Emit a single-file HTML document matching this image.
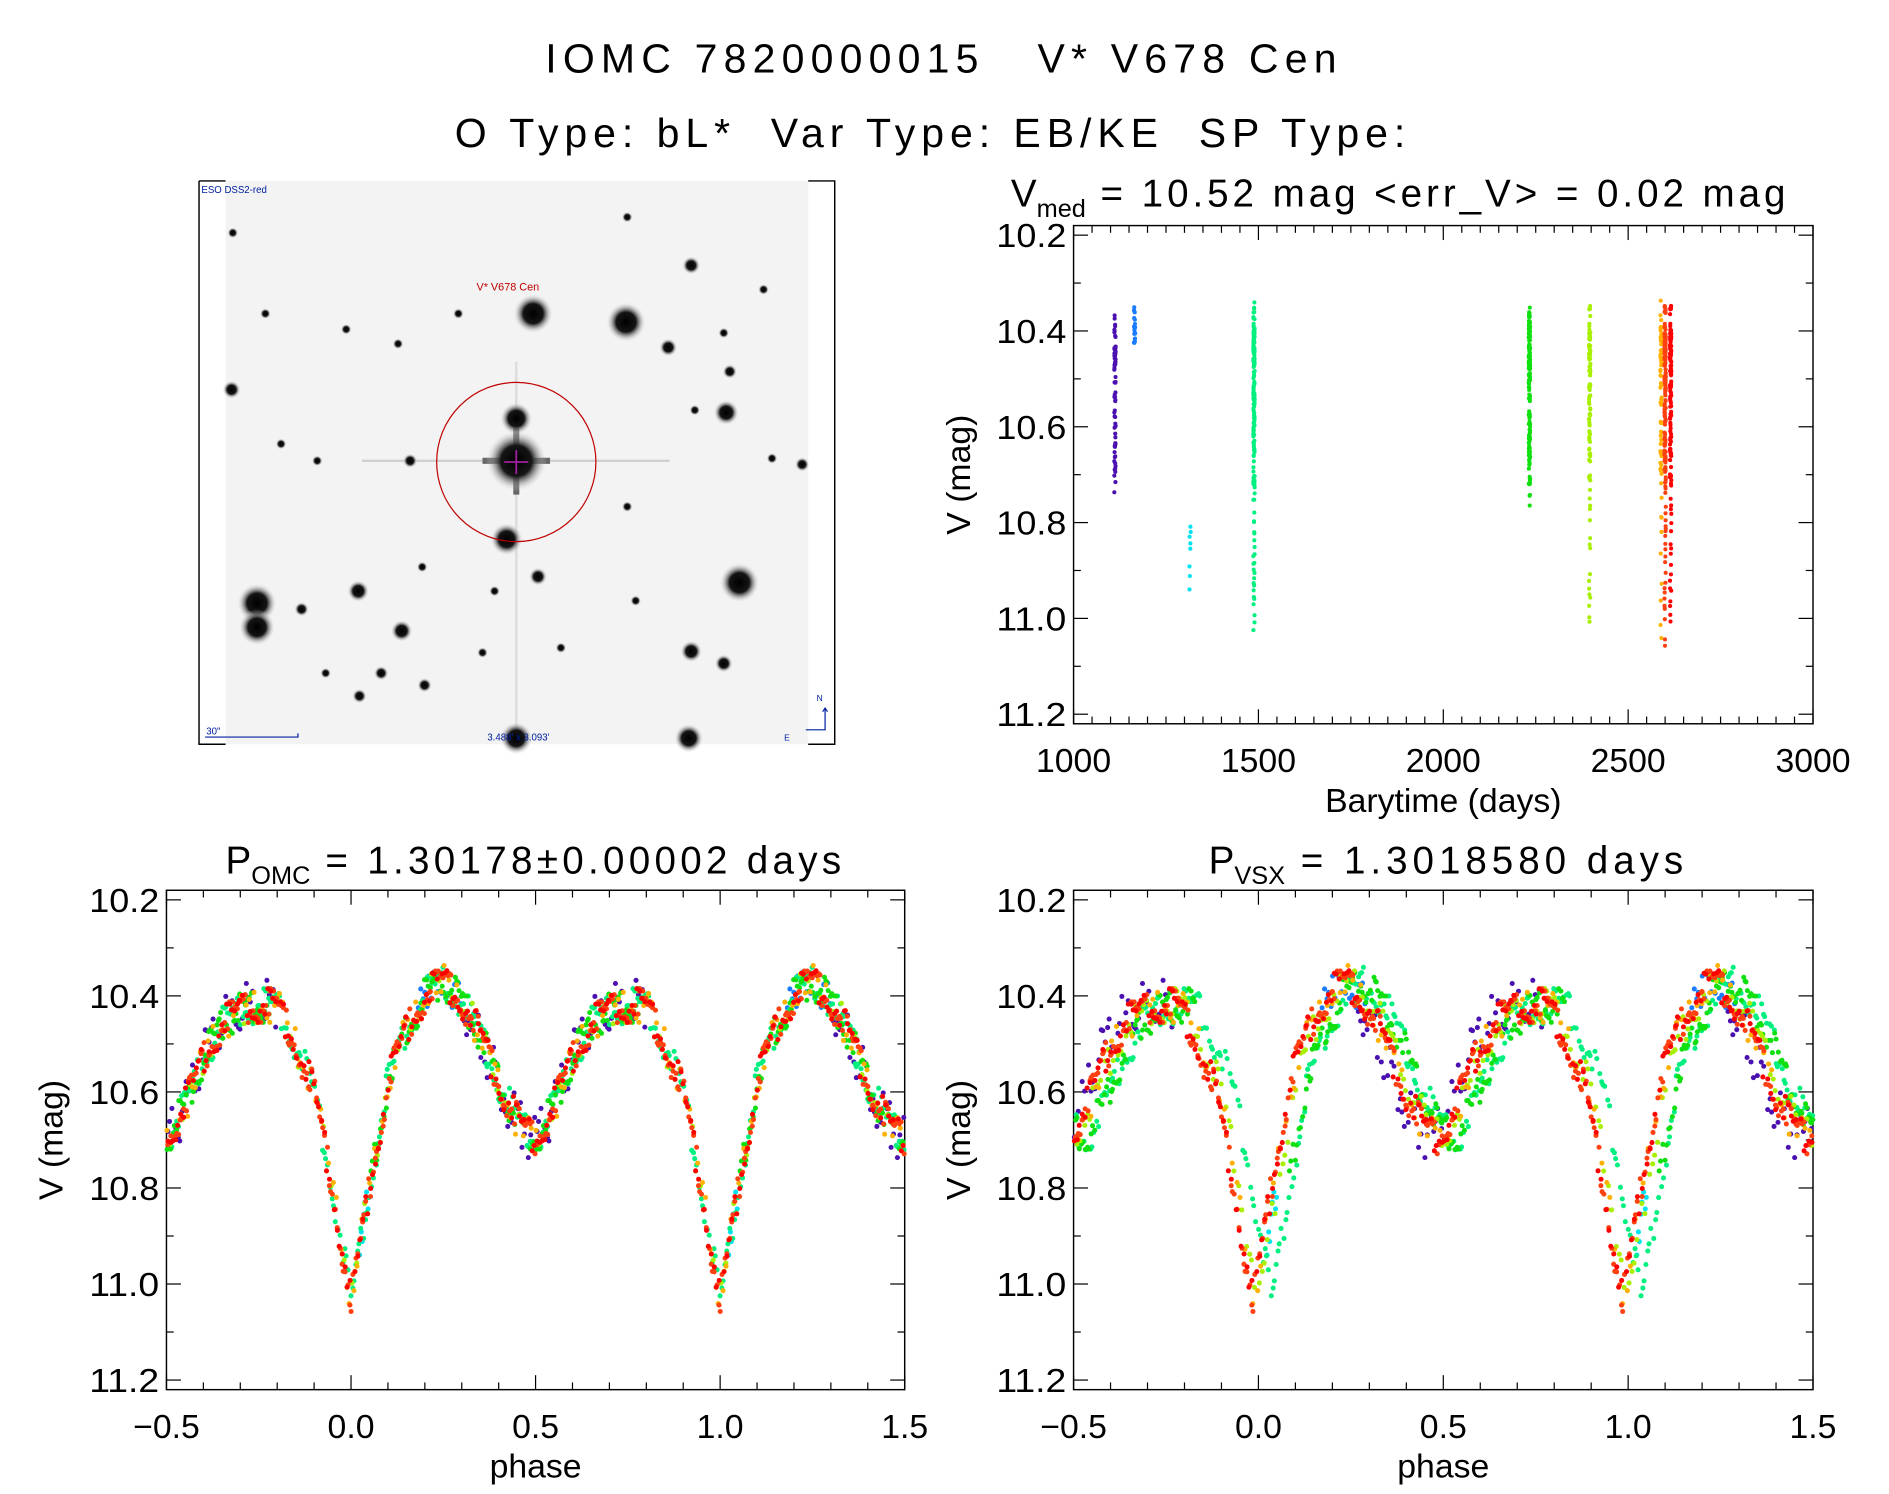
<!DOCTYPE html>
<html><head><meta charset="utf-8">
<style>
html,body{margin:0;padding:0;background:#fff;}
svg{display:block;font-family:"Liberation Sans",sans-serif;}
</style></head>
<body>
<svg id="fig" width="1889" height="1494" viewBox="0 0 1566 1238.5" preserveAspectRatio="none" xmlns="http://www.w3.org/2000/svg">
<rect x="0" y="0" width="1566" height="1239" fill="#fff"/>
<text x="452" y="60" font-size="34" textLength="656" lengthAdjust="spacing" fill="#000" xml:space="preserve">IOMC 7820000015   V* V678 Cen</text>
<text x="377" y="122" font-size="34" textLength="788" lengthAdjust="spacing" fill="#000" xml:space="preserve">O Type: bL*  Var Type: EB/KE  SP Type:</text>

<g id="sky"></g>
<g id="p1"></g>
<g id="p2"></g>
<g id="p3"></g>
</svg>
<script>
// ---- data ----
const templatePhase = [0.0,0.05,0.1,0.15,0.2,0.25,0.3,0.35,0.4,0.45,0.5,0.55,0.6,0.65,0.7,0.75,0.8,0.85,0.9,0.95,1.0];
const templateMag   = [11.04,10.80,10.58,10.47,10.40,10.37,10.41,10.48,10.58,10.66,10.70,10.63,10.53,10.46,10.43,10.42,10.42,10.50,10.60,10.80,11.04];
const seasonTime   = [1112,1165,1315,1488,2233,2396,2589,2600,2615];
const seasonColor  = ['#4a10b0','#1a7cff','#00e4f0','#00f080','#10e010','#a8f000','#ffb000','#ff4010','#ff0000'];
const seasonPhMin  = [0.30,0.18,0.02,0.0,0.05,0.0,0.0,0.0,0.0];
const seasonPhMax  = [0.80,0.30,0.05,1.0,0.80,1.0,1.0,1.0,1.0];
const seasonCount  = [70,20,8,180,160,110,70,180,130];
const seasonShiftVsx = [-0.03,-0.01,0.0,0.035,0.03,0.0,-0.01,-0.015,-0.015];
const jitter = [0.015,-0.03,0.022,-0.008,0.035,-0.022,0.0,0.03,-0.035,0.008,-0.015,0.026,-0.018,0.012,-0.03,0.018];
const magTicks = ['10.2','10.4','10.6','10.8','11.0','11.2'];
const timeTicks = ['1000','1500','2000','2500','3000'];
const phaseTicks = ['\u22120.5','0.0','0.5','1.0','1.5'];

const NS='http://www.w3.org/2000/svg';
function mk(parent,tag,attrs,text){const e=document.createElementNS(NS,tag);for(const k in attrs)e.setAttribute(k,attrs[k]);if(text!==undefined)e.textContent=text;parent.appendChild(e);return e;}
function interp(p){p=((p%1)+1)%1;for(let i=0;i<templatePhase.length-1;i++){if(p<=templatePhase[i+1]){const t=(p-templatePhase[i])/(templatePhase[i+1]-templatePhase[i]);return templateMag[i]+t*(templateMag[i+1]-templateMag[i]);}}return templateMag[0];}

function axes(g,x0,x1,y0,y1,xmin,xmax,ymin,ymax,xt,xtv,nxMinor,title,xlabel){
  const sx=v=>x0+(v-xmin)/(xmax-xmin)*(x1-x0);
  const sy=v=>y0+(v-ymin)/(ymax-ymin)*(y1-y0);
  const fr=mk(g,'rect',{x:x0,y:y0,width:x1-x0,height:y1-y0,fill:'none',stroke:'#000','stroke-width':1.2});
  
  
  for(let i=0;i<magTicks.length;i++){const v=parseFloat(magTicks[i]);const y=sy(v);
    mk(g,'line',{x1:x0,x2:x0+12,y1:y,y2:y,stroke:'#000'});mk(g,'line',{x1:x1,x2:x1-12,y1:y,y2:y,stroke:'#000'});
    const t=mk(g,'text',{x:x0-6,y:y+10,'font-size':28,'text-anchor':'end',textLength:58,lengthAdjust:'spacingAndGlyphs'},magTicks[i]);
    
    
    if(i<magTicks.length-1){const ym=sy(v+0.1);mk(g,'line',{x1:x0,x2:x0+6,y1:ym,y2:ym,stroke:'#000'});mk(g,'line',{x1:x1,x2:x1-6,y1:ym,y2:ym,stroke:'#000'});}
  }
  for(let i=0;i<xt.length;i++){const x=sx(xtv[i]);
    mk(g,'line',{x1:x,x2:x,y1:y1,y2:y1-12,stroke:'#000'});mk(g,'line',{x1:x,x2:x,y1:y0,y2:y0+12,stroke:'#000'});
    const t=mk(g,'text',{x:x,y:y1+40,'font-size':28,'text-anchor':'middle'},xt[i]);
    
    
    if(i<xt.length-1){for(let k=1;k<nxMinor;k++){const xm=sx(xtv[i]+(xtv[i+1]-xtv[i])*k/nxMinor);
      mk(g,'line',{x1:xm,x2:xm,y1:y1,y2:y1-6,stroke:'#000'});mk(g,'line',{x1:xm,x2:xm,y1:y0,y2:y0+6,stroke:'#000'});}}
  }
  const yl=mk(g,'text',{x:0,y:0,'font-size':28,'text-anchor':'middle',transform:`translate(${x0-86},${(y0+y1)/2}) rotate(-90)`},'V (mag)');
  
  
  const xl=mk(g,'text',{x:(x0+x1)/2,y:y1+73,'font-size':28,'text-anchor':'middle'},xlabel);
  
  
  g.appendChild(title);
  return {sx,sy};
}
function titleEl(x,y,w,main,sub,rest){const t=document.createElementNS(NS,'text');
  t.setAttribute('x',x);t.setAttribute('y',y);t.setAttribute('font-size',32);t.setAttribute('xml:space','preserve');
  
  
  const a=document.createElementNS(NS,'tspan');a.textContent=main;t.appendChild(a);
  const b=document.createElementNS(NS,'tspan');b.setAttribute('font-size',21);b.setAttribute('dy',9);b.textContent=sub;t.appendChild(b);
  const c=document.createElementNS(NS,'tspan');c.setAttribute('dy',-9);c.setAttribute('textLength',w);c.setAttribute('lengthAdjust','spacing');c.textContent=rest;t.appendChild(c);
  return t;}

const g1=document.getElementById('p1');
const a1=axes(g1,890,1503,187,600,1000,3000,10.18,11.22,timeTicks,timeTicks.map(Number),10,
  titleEl(838,171,580,'V','med',' =  10.52  mag  <err_V>  =  0.02  mag'),'Barytime (days)');
const g2=document.getElementById('p2');
const a2=axes(g2,138,750,738,1152,-0.5,1.5,10.18,11.22,phaseTicks,[-0.5,0,0.5,1,1.5],5,
  titleEl(187,724,440,'P','OMC',' =  1.30178\u00b10.00002  days'),'phase');
const g3=document.getElementById('p3');
const a3=axes(g3,890,1503,738,1152,-0.5,1.5,10.18,11.22,phaseTicks,[-0.5,0,0.5,1,1.5],5,
  titleEl(1002,724,330,'P','VSX',' =  1.3018580  days'),'phase');

const pts1=mk(g1,'g',{});
const pts2=mk(g2,'g',{});
const pts3=mk(g3,'g',{});
let j=0;
for(let s=0;s<seasonTime.length;s++){
  const n=seasonCount[s];
  for(let k=0;k<n;k++){
    const f=(k*0.6180339+s*0.13)%1;
    const ph=seasonPhMin[s]+f*(seasonPhMax[s]-seasonPhMin[s]);
    const m=interp(ph)+jitter[j%jitter.length]*(s===0?1.5:1);j++;
    const tt=seasonTime[s]+jitter[(j+3)%jitter.length]*50;
    mk(pts1,'circle',{cx:a1.sx(tt),cy:a1.sy(m),r:1.7,fill:seasonColor[s]});
    for(const off of [-1,0,1]){
      const p=ph+off; if(p>=-0.5&&p<=1.5) mk(pts2,'circle',{cx:a2.sx(p),cy:a2.sy(m),r:2.1,fill:seasonColor[s]});
      const p3=ph+off+seasonShiftVsx[s]; if(p3>=-0.5&&p3<=1.5) mk(pts3,'circle',{cx:a3.sx(p3),cy:a3.sy(m),r:2.1,fill:seasonColor[s]});
    }
  }
}

const sky=document.getElementById('sky');
const starX=[442,519,428,428,420,602,213,213,613,333,573,571,428,573,297,554,192,287,233,340,446,520,640,665,352,298,316,600,250,527,465,400,270,193,220,330,380,520,600,633,576,605,263,350,410];
const starY=[260,267,347,382,447,342,500,520,483,523,540,612,612,220,490,288,323,273,368,382,478,420,380,385,568,577,558,550,505,498,537,541,558,193,260,285,260,180,276,240,340,308,382,470,490];
const starR=[11,11,9,17,9,7,11,10,11,6,6,8,9,5,6,5,5,3,3,4,5,3,3,4,4,4,4,5,4,3,3,3,3,3,3,3,3,3,3,3,3,4,3,3,3];
mk(sky,'rect',{x:187,y:150,width:483,height:467,fill:'#f3f3f3'});
const defs=mk(sky,'defs',{});
const rg=mk(defs,'radialGradient',{id:'st'});
mk(rg,'stop',{offset:'0','stop-color':'#000'});mk(rg,'stop',{offset:'0.5','stop-color':'#151515'});mk(rg,'stop',{offset:'1','stop-color':'#f3f3f3','stop-opacity':0});
mk(sky,'line',{x1:300,x2:555,y1:382,y2:382,stroke:'#d0d0d0','stroke-width':2});
mk(sky,'line',{x1:428,x2:428,y1:300,y2:617,stroke:'#dcdcdc','stroke-width':2});
mk(sky,'line',{x1:400,x2:456,y1:382,y2:382,stroke:'#666','stroke-width':5});
mk(sky,'line',{x1:428,x2:428,y1:355,y2:410,stroke:'#666','stroke-width':5});
for(let i=0;i<starX.length;i++){const c=mk(sky,'circle',{cx:starX[i],cy:starY[i],r:starR[i]*1.5,fill:'url(#st)'});
  
  }
mk(sky,'circle',{cx:428,cy:383,r:66,fill:'none',stroke:'#c00000','stroke-width':1});
mk(sky,'line',{x1:418,x2:438,y1:383,y2:383,stroke:'#a020a0','stroke-width':1.5});
mk(sky,'line',{x1:428,x2:428,y1:373,y2:393,stroke:'#a020a0','stroke-width':1.5});
mk(sky,'path',{d:'M165 150 H187 M165 150 V617 H187 M670 150 H692 V617 H670',fill:'none',stroke:'#000','stroke-width':1.2});
const l1=mk(sky,'text',{x:167,y:160,'font-size':8,fill:'#0020a0'},'ESO DSS2-red');
const l2=mk(sky,'text',{x:395,y:241,'font-size':9,fill:'#c00000'},'V* V678 Cen');
const l3=mk(sky,'text',{x:404,y:614,'font-size':8,fill:'#0020a0'},"3.488' x 3.093'");
const l4=mk(sky,'text',{x:171,y:609,'font-size':8,fill:'#0020a0'},'30"');
mk(sky,'path',{d:'M170 611 H247 V608',fill:'none',stroke:'#0020a0','stroke-width':1});
mk(sky,'path',{d:'M684 587 V605 H668 M682 590 L684 587 L686 590',fill:'none',stroke:'#0020a0','stroke-width':1});
mk(sky,'text',{x:677,y:581,'font-size':7,fill:'#0020a0'},'N');
mk(sky,'text',{x:650,y:614,'font-size':7,fill:'#0020a0'},'E');
</script>
</body></html>
